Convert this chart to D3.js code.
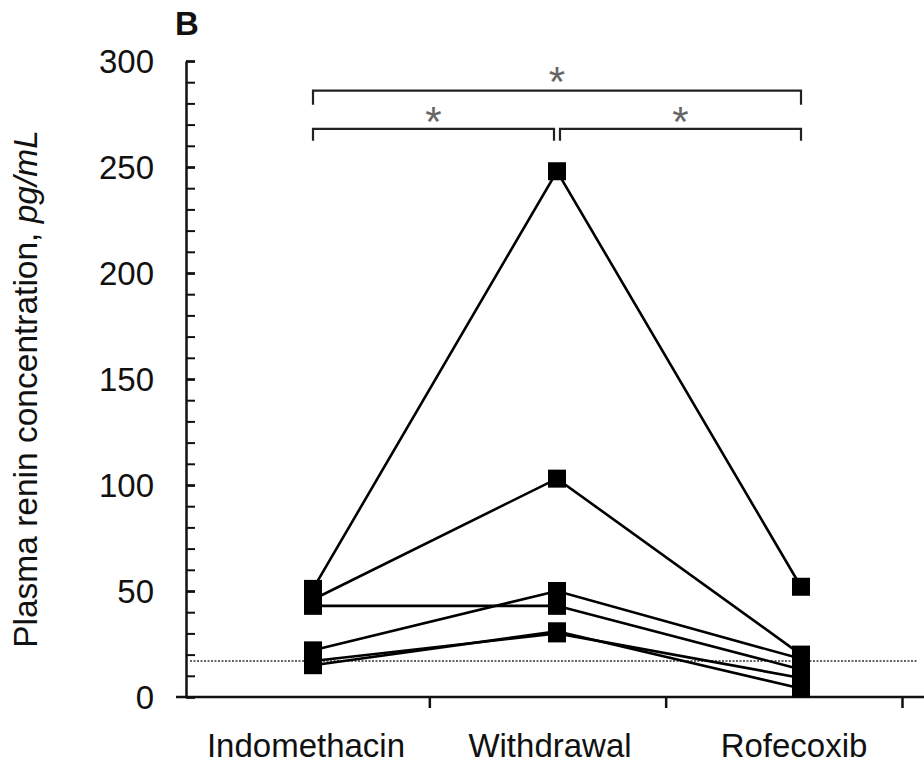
<!DOCTYPE html>
<html>
<head>
  <meta charset="utf-8" />
  <title>Plasma renin concentration</title>
  <script src="https://d3js.org/d3.v7.min.js"></script>
  <style>
    body { margin: 0; background: white; }
    svg text { font-family: "Liberation Sans", Arial, sans-serif; fill: #111; }
  </style>
</head>
<body>
  <svg id="chart"></svg>
  <script>
    // data (pg/mL), one entry per subject
    var categories = ["Indomethacin", "Withdrawal", "Rofecoxib"];
    var indomethacin = [51, 46, 43, 22, 17, 15];
    var withdrawal = [248, 103, 43, 50, 30, 31];
    var rofecoxib = [52, 20, 13, 18, 9, 4];
    var yTicks = [0, 50, 100, 150, 200, 250, 300];
    var yMinorTicks = d3.range(0, 301, 10);
    var referenceLevel = 17;
    // significance brackets: from/to are category indexes, level in pg/mL
    var bracketFrom = [0, 0, 1];
    var bracketTo = [2, 1, 2];
    var bracketLevel = [286, 268, 268];
    var bracketLabel = ["*", "*", "*"];

    var width = 924, height = 765;
    var svg = d3.select("#chart").attr("width", width).attr("height", height);

    var y = d3.scaleLinear().domain([0, 300]).range([697, 61]);
    var x = d3.scalePoint().domain(categories).range([313, 801]);
    var xSep = d3.scaleLinear().domain([0, 3]).range([193, 902]);
    var axisX = 186;

    // dotted reference line
    svg.append("line")
      .attr("x1", axisX + 4).attr("x2", 918)
      .attr("y1", y(referenceLevel)).attr("y2", y(referenceLevel))
      .attr("stroke", "#333").attr("stroke-width", 1.5)
      .attr("stroke-dasharray", "2,1.5");

    // y axis
    var yAxis = svg.append("g")
      .attr("transform", "translate(" + axisX + ",0)")
      .call(d3.axisLeft(y).tickValues(yTicks).tickSize(10).tickSizeOuter(0).tickPadding(22));
    yAxis.select(".domain").attr("stroke", "#111").attr("stroke-width", 2.5);
    yAxis.selectAll(".tick line").attr("x2", 9).attr("stroke", "#111").attr("stroke-width", 2.5);
    yAxis.selectAll(".tick text").style("font-size", "33px").attr("dy", "0.36em");

    var yMinor = svg.append("g")
      .attr("transform", "translate(" + axisX + ",0)")
      .call(d3.axisRight(y).tickValues(yMinorTicks).tickSize(9).tickFormat(""));
    yMinor.select(".domain").remove();
    yMinor.selectAll(".tick line").attr("stroke", "#111").attr("stroke-width", 2);

    // x axis
    var xAxis = svg.append("g")
      .attr("transform", "translate(0," + y(0) + ")")
      .call(d3.axisBottom(xSep).tickValues([1, 2, 3]).tickSize(11).tickFormat(""));
    xAxis.select(".domain").remove();
    xAxis.selectAll(".tick line").attr("stroke", "#111").attr("stroke-width", 2.5);
    svg.append("line")
      .attr("x1", axisX - 10).attr("x2", width)
      .attr("y1", y(0)).attr("y2", y(0))
      .attr("stroke", "#111").attr("stroke-width", 2.5);

    svg.selectAll(".xlabel")
      .data(categories)
      .enter().append("text")
      .attr("class", "xlabel")
      .attr("x", function (d) { return x(d) - 7; })
      .attr("y", 757)
      .attr("text-anchor", "middle")
      .style("font-size", "33px")
      .text(function (d) { return d; });

    // y axis title
    var ylab = svg.append("text")
      .attr("transform", "translate(37,389) rotate(-90)")
      .attr("text-anchor", "middle")
      .style("font-size", "33.5px");
    ylab.append("tspan").text("Plasma renin concentration, ");
    ylab.append("tspan").style("font-style", "italic").text("pg/mL");

    // panel letter
    svg.append("text")
      .attr("x", 175).attr("y", 35)
      .style("font-size", "33px").style("font-weight", "bold")
      .text("B");

    // subject lines and markers
    var subjects = indomethacin.map(function (v, i) {
      return [v, withdrawal[i], rofecoxib[i]];
    });
    var line = d3.line()
      .x(function (d, i) { return x(categories[i]); })
      .y(function (d) { return y(d); });

    svg.selectAll(".subject")
      .data(subjects)
      .enter().append("path")
      .attr("class", "subject")
      .attr("d", line)
      .attr("fill", "none")
      .attr("stroke", "#000")
      .attr("stroke-width", 2.6);

    var sq = 18;
    subjects.forEach(function (s) {
      svg.selectAll(null)
        .data(s)
        .enter().append("rect")
        .attr("x", function (d, i) { return x(categories[i]) - sq / 2; })
        .attr("y", function (d) { return y(d) - sq / 2; })
        .attr("width", sq).attr("height", sq)
        .attr("fill", "#000");
    });

    // significance brackets
    bracketFrom.forEach(function (f, i) {
      var t = bracketTo[i];
      var x1 = x(categories[f]) + (f === 1 ? 3 : 0);
      var x2 = x(categories[t]) - (t === 1 ? 3 : 0);
      var by = y(bracketLevel[i]);
      var drop = i === 0 ? 14 : 12;
      svg.append("path")
        .attr("d", "M" + x1 + "," + (by + drop) + "V" + by + "H" + x2 + "V" + (by + drop))
        .attr("fill", "none")
        .attr("stroke", "#222")
        .attr("stroke-width", 2.2);
      svg.append("text")
        .attr("x", (x1 + x2) / 2)
        .attr("y", by + (i === 0 ? 5 : 7))
        .attr("text-anchor", "middle")
        .style("font-size", "42px")
        .style("fill", "#666")
        .text(bracketLabel[i]);
    });
  </script>
</body>
</html>
